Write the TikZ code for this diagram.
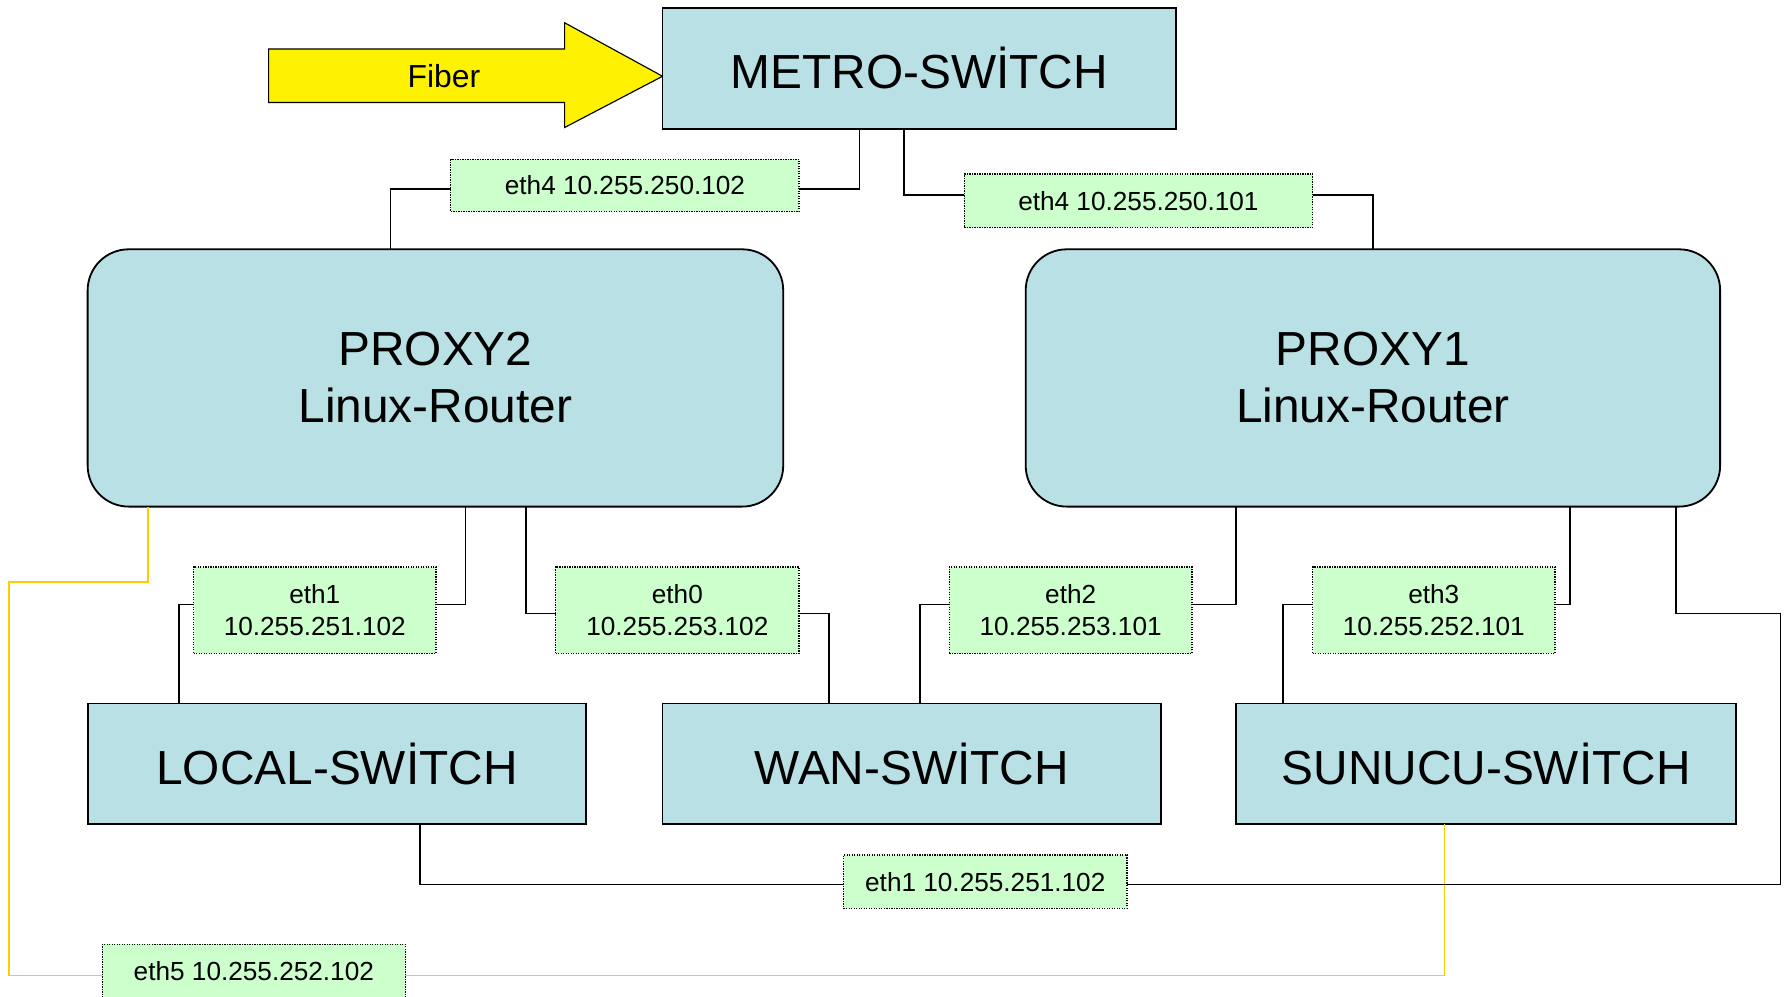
\documentclass[tikz,border=0pt]{standalone}
\usepackage{fontspec}
\setmainfont{Liberation Sans}
\begin{document}
\begin{tikzpicture}[x=1pt,y=-1pt,
  box/.style={draw=black, line width=1.6pt, fill=boxfill, inner sep=0pt, outer sep=0pt,
              font=\fontsize{42}{48}\selectfont, align=center},
  router/.style={box, rounded corners=36pt, font=\fontsize{42}{50}\selectfont},
  iflabel/.style={draw=black, line width=1.2pt, dash pattern=on 1.2pt off 1pt,
                  fill=labelfill, inner sep=0pt, outer sep=0pt,
                  font=\fontsize{23}{28}\selectfont, align=center},
  wire/.style={draw=black, line width=1.5pt},
  fiberwire/.style={draw=fibergold, line width=1.4pt}]
\definecolor{boxfill}{RGB}{185,224,228}
\definecolor{labelfill}{RGB}{204,255,204}
\definecolor{fibergold}{RGB}{255,204,0}
\useasboundingbox (0,0) rectangle (1568,875);

% incoming fibre arrow
\draw[black, line width=1pt, fill=yellow]
  (236,43) -- (496,43) -- (496,20) -- (582,67) -- (496,112) -- (496,90) -- (236,90) -- cycle;
\node[font=\fontsize{28}{32}\selectfont] (fiber) at (390,67) {Fiber};

% devices
\node[box, minimum width=451pt, minimum height=106pt] (metro) at (807.5,60) {METRO-SWİTCH};
\node[router, minimum width=611pt, minimum height=226pt] (proxy2) at (382.5,332) {PROXY2\\Linux-Router};
\node[router, minimum width=610pt, minimum height=226pt] (proxy1) at (1206,332) {PROXY1\\Linux-Router};
\node[box, minimum width=438pt, minimum height=106pt] (local) at (296,671) {LOCAL-SWİTCH};
\node[box, minimum width=438pt, minimum height=106pt] (wan) at (801,671) {WAN-SWİTCH};
\node[box, minimum width=439pt, minimum height=106pt] (sunucu) at (1305.5,671) {SUNUCU-SWİTCH};

% interface labels
\node[iflabel, minimum width=306pt, minimum height=46pt] (lA) at (549,163) {eth4 10.255.250.102};
\node[iflabel, minimum width=306pt, minimum height=47pt] (lB) at (1000,176.5) {eth4 10.255.250.101};
\node[iflabel, minimum width=213pt, minimum height=76pt] (l1) at (276.5,536) {eth1\\10.255.251.102};
\node[iflabel, minimum width=214pt, minimum height=76pt] (l0) at (595,536) {eth0\\10.255.253.102};
\node[iflabel, minimum width=213pt, minimum height=76pt] (l2) at (940.5,536) {eth2\\10.255.253.101};
\node[iflabel, minimum width=213pt, minimum height=76pt] (l3) at (1259.5,536) {eth3\\10.255.252.101};
\node[iflabel, minimum width=249pt, minimum height=47pt] (lbot) at (865.5,774.5) {eth1 10.255.251.102};
\node[iflabel, minimum width=266pt, minimum height=47pt] (l5) at (223,853) {eth5 10.255.252.102};

% eth5 link (gold)
\draw[fiberwire] (130,0 |- proxy2.south) |- (8,511) |- (l5.west |- 0,857);
\draw[fiberwire] (l5.east |- 0,857) -| (1269,0 |- sunucu.south);

% metro uplinks
\draw[wire] (755,0 |- metro.south) |- (lA.east |- 0,166);
\draw[wire] (lA.west |- 0,166) -| (343,0 |- proxy2.north);
\draw[wire] (794,0 |- metro.south) |- (lB.west |- 0,171);
\draw[wire] (lB.east |- 0,171) -| (1206,0 |- proxy1.north);

% PROXY2 downlinks
\draw[wire] (409,0 |- proxy2.south) |- (l1.east |- 0,531);
\draw[wire] (l1.west |- 0,531) -| (157,0 |- local.north);
\draw[wire] (462,0 |- proxy2.south) |- (l0.west |- 0,539);
\draw[wire] (l0.east |- 0,539) -| (728,0 |- wan.north);

% PROXY1 downlinks
\draw[wire] (1086,0 |- proxy1.south) |- (l2.east |- 0,531);
\draw[wire] (l2.west |- 0,531) -| (808,0 |- wan.north);
\draw[wire] (1379,0 |- proxy1.south) |- (l3.east |- 0,531);
\draw[wire] (l3.west |- 0,531) -| (1127,0 |- sunucu.north);
\draw[wire] (1472,0 |- proxy1.south) |- (1564,539) |- (lbot.east |- 0,777);
\draw[wire] (lbot.west |- 0,777) -| (369,0 |- local.south);
\end{tikzpicture}
\end{document}
